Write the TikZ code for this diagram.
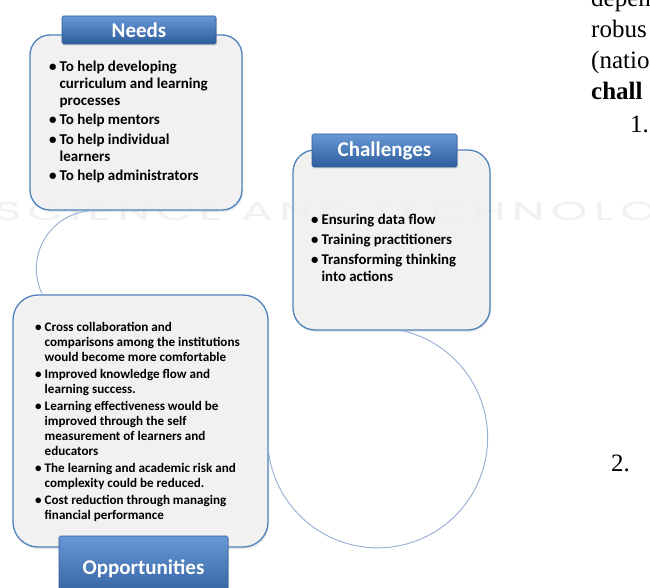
\documentclass[tikz,border=0pt]{standalone}
\usepackage{fontspec}
\setmainfont{Carlito}
\newfontfamily\paperfont{Liberation Serif}
\newfontfamily\markfont[LetterSpace=13]{Poppins}
\usetikzlibrary{shadows}
\definecolor{boxline}{RGB}{79,129,189}
\definecolor{boxfill}{RGB}{243,243,243}
\definecolor{labtop}{RGB}{104,152,214}
\definecolor{labbot}{RGB}{46,92,156}
\definecolor{ringline}{RGB}{150,172,212}

\begin{document}
\begin{tikzpicture}[
        x=1pt, y=1pt,
        panel/.style={draw=boxline, line width=1.3pt, fill=boxfill, fill opacity=0.85,
            drop shadow={opacity=0.18, shadow xshift=1pt, shadow yshift=-2pt}},
        tag/.style={draw=labbot, line width=0.6pt, top color=labtop, bottom color=labbot,
            rounded corners=1.5pt, text=white, font=\fontsize{21}{24}\selectfont\bfseries,
            drop shadow={opacity=0.3, shadow xshift=1pt, shadow yshift=-1.5pt}},
        items/.style={anchor=north west, inner sep=0pt, align=left},
        ring/.style={draw=ringline, line width=0.9pt},
        paper/.style={anchor=base west, inner sep=0pt, font=\paperfont\fontsize{25}{30}\selectfont},
        wmark/.style={anchor=base west, inner sep=0pt, text=gray!11, font=\markfont\fontsize{26}{30}\selectfont}
    ]
    \useasboundingbox (0,0) rectangle (650,-588);
    \clip (0,0) rectangle (650,-588);
    \fill[white] (0,0) rectangle (650,-588);
    \node[wmark] (wm) at (-6,-220) {\scalebox{1.8}[1]{SCIENCE AND TECHNOLOGY}};

    \node[paper] (w1) at (591,-7) {depen};
    \node[paper] (w2) at (591,-38) {robus};
    \node[paper] (w3) at (591,-69) {(natio};
    \node[paper, font=\paperfont\bfseries\fontsize{25}{30}\selectfont] (w4) at (591,-100) {chall};
    \node[paper] (w5) at (630,-133) {1.};
    \node[paper] (w6) at (611,-471) {2.};

    \node[panel, rounded corners=20pt, minimum width=212pt, minimum height=175pt] (needs) at (136,-122.5) {};
    \node[panel, rounded corners=22pt, minimum width=197pt, minimum height=180pt] (chal) at (391.5,-240) {};
    \node[panel, rounded corners=25pt, minimum width=255pt, minimum height=252pt] (opp) at (140.5,-421) {};

    \coordinate (n1) at ([xshift=65pt]needs.south west);
    \coordinate (c1) at ([xshift=110pt]chal.south west);
    \draw[ring] (n1) arc[start angle=90, end angle=205, radius=58pt];
    \draw[ring] (c1) arc[start angle=77, end angle=-180, radius=110pt];

    \node[tag, minimum width=154pt, minimum height=28pt] (needslbl) at (139,-30) {Needs};
    \node[tag, minimum width=145pt, minimum height=33pt] (challbl) at (384.5,-150.5) {Challenges};
    \node[tag, minimum width=169pt, minimum height=66pt] (opplbl) at (143.5,-569) {Opportunities};

    \node[items, font=\fontsize{15}{17}\selectfont\bfseries] (needstxt) at (49,-59) {%
        \begin{tabular}{@{}l@{\hspace{3pt}}l@{}}
        \textbullet & To help developing\\
        & curriculum and learning\\
        & processes\\[2.5pt]
        \textbullet & To help mentors\\[2.5pt]
        \textbullet & To help individual\\
        & learners\\[2.5pt]
        \textbullet & To help administrators
        \end{tabular}};
    \node[items, font=\fontsize{14.8}{17}\selectfont\bfseries] (chaltxt) at (311,-212.5) {%
        \begin{tabular}{@{}l@{\hspace{3pt}}l@{}}
        \textbullet & Ensuring data flow\\[3pt]
        \textbullet & Training practitioners\\[3pt]
        \textbullet & Transforming thinking\\
        & into actions
        \end{tabular}};
    \node[items, font=\fontsize{13.1}{15}\selectfont\bfseries] (opptxt) at (35,-320.5) {%
        \begin{tabular}{@{}l@{\hspace{3pt}}l@{}}
        \textbullet & Cross collaboration and\\
        & comparisons among the institutions\\
        & would become more comfortable\\[2pt]
        \textbullet & Improved knowledge flow and\\
        & learning success.\\[2pt]
        \textbullet & Learning effectiveness would be\\
        & improved through the self\\
        & measurement of learners and\\
        & educators\\[2pt]
        \textbullet & The learning and academic risk and\\
        & complexity could be reduced.\\[2pt]
        \textbullet & Cost reduction through managing\\
        & financial performance
        \end{tabular}};
\end{tikzpicture}
\end{document}
